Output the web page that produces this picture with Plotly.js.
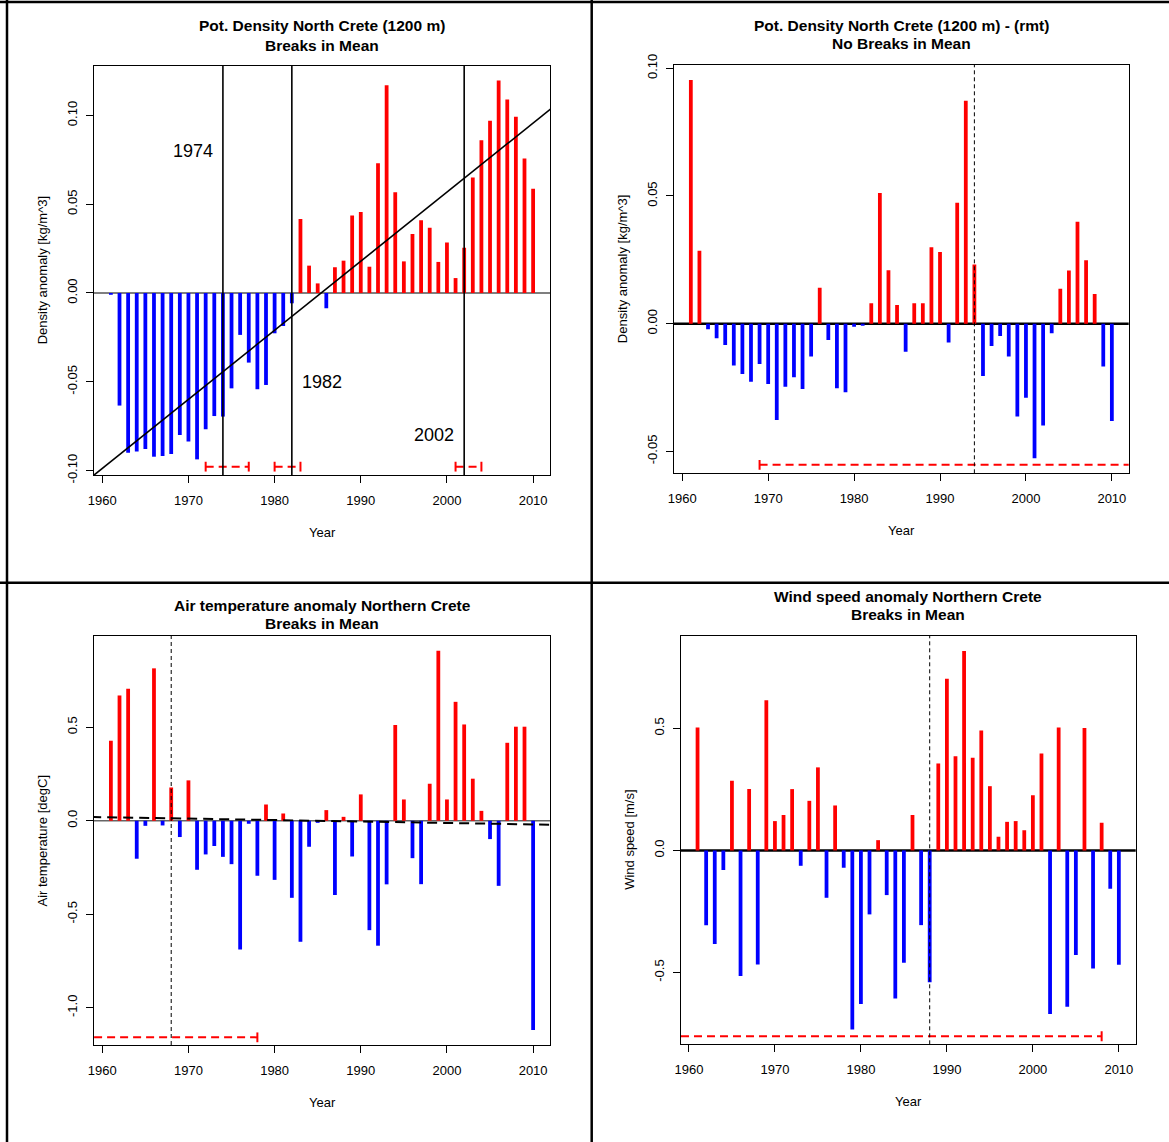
<!DOCTYPE html>
<html><head><meta charset="utf-8">
<script src="https://cdn.plot.ly/plotly-3.0.1.min.js"></script>
<style>html,body{margin:0;padding:0;background:#fff}#chart{width:1169px;height:1142px}</style>
</head><body><div id="chart"></div>
<script>
// ---------------- data ----------------
const years = [1961,1962,1963,1964,1965,1966,1967,1968,1969,1970,
               1971,1972,1973,1974,1975,1976,1977,1978,1979,1980,
               1981,1982,1983,1984,1985,1986,1987,1988,1989,1990,
               1991,1992,1993,1994,1995,1996,1997,1998,1999,2000,
               2001,2002,2003,2004,2005,2006,2007,2008,2009,2010];

const densityAnomaly = [-0.0010,-0.0634,-0.0899,-0.0893,-0.0878,-0.0922,-0.0918,-0.0907,-0.0800,-0.0837,
                        -0.0937,-0.0768,-0.0693,-0.0696,-0.0537,-0.0236,-0.0392,-0.0542,-0.0518,-0.0227,
                        -0.0186,-0.0058, 0.0417, 0.0154, 0.0054,-0.0086, 0.0145, 0.0182, 0.0437, 0.0456,
                         0.0148, 0.0730, 0.1170, 0.0567, 0.0178, 0.0332, 0.0409, 0.0368, 0.0175, 0.0285,
                         0.0084, 0.0255, 0.0651, 0.0860, 0.0970, 0.1197, 0.1090, 0.0993, 0.0758, 0.0587];

const densityRmt = [ 0.0954, 0.0286,-0.0022,-0.0057,-0.0084,-0.0164,-0.0197,-0.0227,-0.0158,-0.0236,
                    -0.0377,-0.0247,-0.0210,-0.0256,-0.0129, 0.0141,-0.0064,-0.0253,-0.0269,-0.0012,
                    -0.0008, 0.0080, 0.0512, 0.0209, 0.0073,-0.0110, 0.0080, 0.0080, 0.0299, 0.0281,
                    -0.0074, 0.0474, 0.0873, 0.0232,-0.0205,-0.0087,-0.0048,-0.0129,-0.0364,-0.0290,
                    -0.0527,-0.0399,-0.0038, 0.0137, 0.0208, 0.0399, 0.0248, 0.0116,-0.0168,-0.0381];

const airTemp = [ 0.428, 0.670, 0.706,-0.203,-0.027, 0.815,-0.025, 0.178,-0.087, 0.216,
                 -0.262,-0.180,-0.135,-0.193,-0.232,-0.688,-0.016,-0.294, 0.087,-0.316,
                  0.039,-0.412,-0.647,-0.139,-0.011, 0.057,-0.397, 0.021,-0.191, 0.141,
                 -0.585,-0.668,-0.340, 0.512, 0.114,-0.200,-0.339, 0.198, 0.909, 0.114,
                  0.636, 0.515, 0.225, 0.053,-0.098,-0.348, 0.417, 0.503, 0.503,-1.119];

const windSpeed = [ 0.503,-0.306,-0.383,-0.080, 0.285,-0.514, 0.251,-0.467, 0.615, 0.120,
                    0.145, 0.251,-0.063, 0.203, 0.340,-0.194, 0.184,-0.071,-0.733,-0.629,
                   -0.262, 0.042,-0.183,-0.606,-0.460, 0.145,-0.306,-0.540, 0.356, 0.703,
                    0.386, 0.817, 0.379, 0.491, 0.263, 0.056, 0.117, 0.120, 0.083, 0.226,
                    0.397,-0.670, 0.503,-0.640,-0.428, 0.501,-0.484, 0.113,-0.157,-0.468];

// breakpoints and their confidence intervals
const densityBreaks = [1974, 1982, 2002];
const densityCiLow  = [1972, 1980, 2001];
const densityCiHigh = [1977, 1983, 2004];
const densityTrend  = {at1960: -0.0988, slope: 0.00389};   // fitted linear trend

const rmtBreaks = [1994];  const rmtCiLow = [1969];  const rmtCiHigh = [2020];
const airBreaks = [1968];  const airCiLow = [1950];  const airCiHigh = [1978];
const airTrend  = {at1960: 0.0193, slope: -0.000775};
const windBreaks = [1988]; const windCiLow = [1950]; const windCiHigh = [2008];

const xTickVals = [1960, 1970, 1980, 1990, 2000, 2010];
const xTickText = ['1960', '1970', '1980', '1990', '2000', '2010'];
const densTickVals = [-0.10, -0.05, 0, 0.05, 0.10];
const densTickText = ['-0.10', '-0.05', '0.00', '0.05', '0.10'];
const airTickVals = [-1.0, -0.5, 0, 0.5];
const airTickText = ['-1.0', '-0.5', '0.0', '0.5'];
const windTickVals = [-0.5, 0, 0.5];
const windTickText = ['-0.5', '0.0', '0.5'];

// ---------------- layout helpers ----------------
const W = 1169, H = 1142;
const px = x => x / W, py = y => 1 - y / H;
const FONT = 'Liberation Sans, Arial, Helvetica, sans-serif';
const RED = '#FF0000', BLUE = '#0000FF';

const panels = [
  {ax:'', box:[94,65.7,550,475], yrange:[-0.1025,0.128], values:densityAnomaly,
   yt:[densTickVals,densTickText], title:['Pot. Density North Crete (1200 m)','Breaks in Mean'], titleY:[26,45],
   ytitle:'Density anomaly [kg/m^3]', breaks:densityBreaks, solidBreaks:true, ciLow:densityCiLow, ciHigh:densityCiHigh, ciY:-0.0978,
   zero:{color:'#555', width:1.3}, trend:densityTrend, trendDash:'solid'},
  {ax:'2', box:[674,65,1128.7,473.3], yrange:[-0.0586,0.1013], values:densityRmt,
   yt:[densTickVals,densTickText], title:['Pot. Density North Crete (1200 m) - (rmt)','No Breaks in Mean'], titleY:[26,44],
   ytitle:'Density anomaly [kg/m^3]', breaks:rmtBreaks, solidBreaks:false, ciLow:rmtCiLow, ciHigh:rmtCiHigh, ciY:-0.0553,
   zero:{color:'#000', width:2.5}},
  {ax:'3', box:[94,636,550,1045], yrange:[-1.199,0.988], values:airTemp,
   yt:[airTickVals,airTickText], title:['Air temperature anomaly Northern Crete','Breaks in Mean'], titleY:[605,624],
   ytitle:'Air temperature [degC]', breaks:airBreaks, solidBreaks:false, ciLow:airCiLow, ciHigh:airCiHigh, ciY:-1.158,
   zero:{color:'#666', width:1.3}, trend:airTrend, trendDash:'10px,6px'},
  {ax:'4', box:[680.7,636,1135.7,1044.3], yrange:[-0.794,0.878], values:windSpeed,
   yt:[windTickVals,windTickText], title:['Wind speed anomaly Northern Crete','Breaks in Mean'], titleY:[596,614],
   ytitle:'Wind speed [m/s]', breaks:windBreaks, solidBreaks:false, ciLow:windCiLow, ciHigh:windCiHigh, ciY:-0.761,
   zero:{color:'#000', width:2.5}}
];

const data = [];
const layout = {
  width: W, height: H, margin:{l:0,r:0,t:0,b:0}, showlegend:false,
  paper_bgcolor:'#fff', plot_bgcolor:'#fff', font:{family:FONT, size:13, color:'#000'},
  shapes:[], annotations:[]
};

panels.forEach(p => {
  const xa = 'x' + p.ax, ya = 'y' + p.ax;
  const [l,t,r,b] = p.box;
  layout['xaxis' + p.ax] = {
    domain:[px(l), px(r)], range:[1959.04, 2011.96], anchor: ya,
    tickmode:'array', tickvals:xTickVals, ticktext:xTickText,
    ticks:'outside', ticklen:7, tickwidth:1, tickcolor:'#000',
    showline:true, mirror:true, linecolor:'#000', linewidth:1,
    showgrid:false, zeroline:false, fixedrange:true,
    tickfont:{family:FONT, size:13}, ticklabelstandoff:6
  };
  layout['yaxis' + p.ax] = {
    domain:[py(b), py(t)], range:p.yrange, anchor: xa,
    tickmode:'array', tickvals:p.yt[0], ticktext:p.yt[1], tickangle:-90,
    ticks:'outside', ticklen:7, tickwidth:1, tickcolor:'#000',
    showline:true, mirror:true, linecolor:'#000', linewidth:1,
    showgrid:false, zeroline:false, fixedrange:true,
    tickfont:{family:FONT, size:13}, ticklabelstandoff:4
  };
  // zero line
  layout.shapes.push({type:'line', layer:'below', xref:xa+' domain', yref:ya, x0:0, x1:1, y0:0, y1:0,
                      line:{color:p.zero.color, width:p.zero.width}});
  // anomaly bars
  data.push({type:'bar', x:years, y:p.values, xaxis:xa, yaxis:ya, width:0.44,
             marker:{color:p.values.map(v => v >= 0 ? RED : BLUE), line:{width:0}}, hoverinfo:'x+y'});
  // trend line
  if (p.trend) {
    const tx = [1955, 2016];
    data.push({type:'scatter', mode:'lines', x:tx, y:tx.map(x => p.trend.at1960 + p.trend.slope*(x-1960)),
               xaxis:xa, yaxis:ya, line:{color:'#000', width:p.trendDash==='solid'?1.6:2, dash:p.trendDash}, hoverinfo:'skip'});
  }
  // break lines
  p.breaks.forEach(bk => layout.shapes.push({type:'line', layer:'above', xref:xa, yref:ya+' domain',
      x0:bk, x1:bk, y0:0, y1:1,
      line:{color:'#000', width:p.solidBreaks?1.6:1, dash:p.solidBreaks?'solid':'4px,3px'}}));
  // confidence intervals
  const cx = [], cy = [];
  p.ciLow.forEach((lo,i) => { cx.push(lo, p.ciHigh[i], null); cy.push(p.ciY, p.ciY, null); });
  data.push({type:'scatter', mode:'lines+markers', x:cx, y:cy, xaxis:xa, yaxis:ya,
             line:{color:RED, width:2, dash:'8px,5px'},
             marker:{symbol:'line-ns', size:7, line:{color:RED, width:2}}, hoverinfo:'skip'});
  // titles
  const cxp = (l + r) / 2;
  p.title.forEach((tt,i) => layout.annotations.push({xref:'paper', yref:'paper', x:px(cxp), y:py(p.titleY[i]),
      text:'<b>'+tt+'</b>', showarrow:false, xanchor:'center', yanchor:'middle', font:{family:FONT, size:15.5}}));
  layout.annotations.push({xref:'paper', yref:'paper', x:px(cxp), y:py(b + 57), text:'Year', showarrow:false,
      xanchor:'center', yanchor:'middle', font:{family:FONT, size:13}});
  layout.annotations.push({xref:'paper', yref:'paper', x:px(l - 52), y:py((t + b) / 2), text:p.ytitle, textangle:-90,
      showarrow:false, xanchor:'center', yanchor:'middle', font:{family:FONT, size:13}});
});

// break year labels in the density panel
[[1970.5, 0.08, '1974'], [1985.5, -0.05, '1982'], [1998.5, -0.08, '2002']].forEach(a =>
  layout.annotations.push({xref:'x', yref:'y', x:a[0], y:a[1], text:a[2], showarrow:false,
    xanchor:'center', yanchor:'middle', font:{family:FONT, size:18}}));

// figure frame / panel separators
[[7,0,7,1142],[0,2,1169,2],[591.7,0,591.7,1142],[0,582.7,1169,582.7]].forEach(s =>
  layout.shapes.push({type:'line', xref:'paper', yref:'paper', x0:px(s[0]), y0:py(s[1]), x1:px(s[2]), y1:py(s[3]),
    line:{color:'#000', width:2.5}}));

Plotly.newPlot('chart', data, layout, {staticPlot:true, displayModeBar:false});
</script>
</body></html>
